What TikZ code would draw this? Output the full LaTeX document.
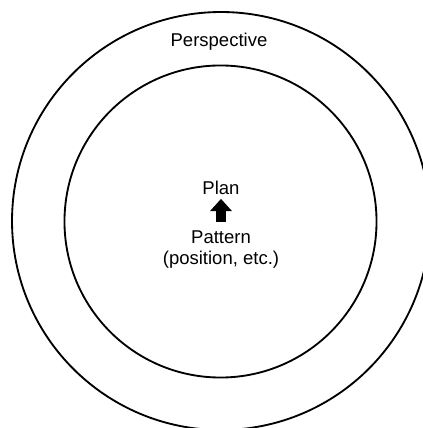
\documentclass[tikz,border=0pt]{standalone}
\usepackage{fontspec}
\setmainfont{Liberation Sans}
\usetikzlibrary{positioning,arrows.meta}

\begin{document}
\begin{tikzpicture}[
    x=0.54pt, y=-0.54pt,
    ring/.style={draw, circle, line width=1pt, inner sep=0pt},
    label/.style={font=\fontsize{10}{11.5}\selectfont, inner sep=0pt, align=center},
    uparrow/.style={line width=5.4pt, -{Triangle[width=11.5pt, length=6.6pt]}},
]
\useasboundingbox (0,0) rectangle (423,428);
\clip (0,0) rectangle (423,428);

\node[ring, minimum size=225.7pt] (outer) at (221,221) {};
\node[ring, minimum size=168.5pt] (inner) at (220.5,221.5) {};

\node[label, anchor=base] (persp) at (219,47) {Perspective};
\node[label, anchor=base] (plan) at (221,195) {Plan};
\node[label, anchor=north] (pattern) at (221,230) {Pattern\\(position, etc.)};

\draw[uparrow, shorten <=4.3pt, shorten >=1.8pt] (pattern.north) -- (plan.south);
\end{tikzpicture}
\end{document}
